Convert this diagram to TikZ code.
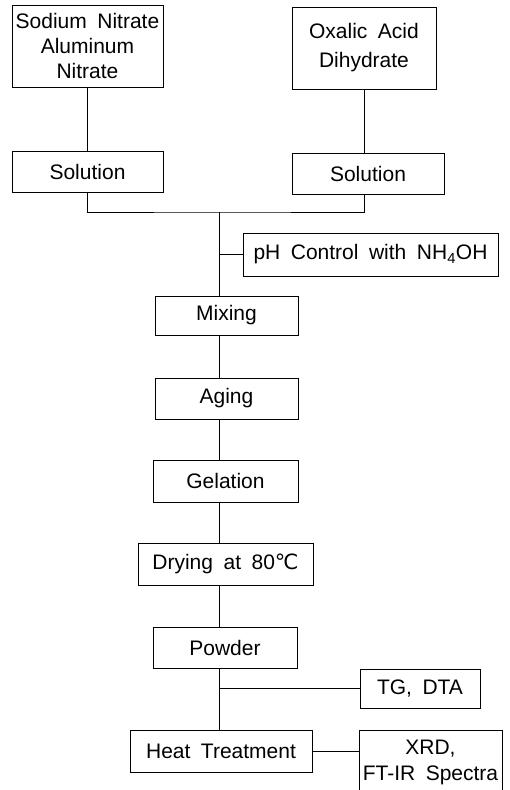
\documentclass[tikz,border=0pt]{standalone}
\usepackage{fontspec}
\setmainfont{Liberation Sans}[WordSpace=1.8]
\newfontfamily\symfont{DejaVu Sans}
\begin{document}
\begin{tikzpicture}[x=1pt,y=-1pt,
  box/.style={draw,line width=0.9pt,rectangle,align=center,inner sep=0pt,
    font=\fontsize{21}{25}\selectfont},
  ln/.style={line width=0.9pt}]
\useasboundingbox (0,0) rectangle (510,790);
\node[box,minimum width=151,minimum height=82] (sod) at (87.5,46) {Sodium Nitrate\\Aluminum\\Nitrate};
\node[box,minimum width=144,minimum height=82,font=\fontsize{21}{29}\selectfont] (oxa) at (364,48) {Oxalic Acid\\Dihydrate};
\node[box,minimum width=151,minimum height=41] (sol1) at (87.5,171.5) {Solution};
\node[box,minimum width=152,minimum height=41] (sol2) at (368,173.5) {Solution};
\coordinate (j) at (219,212);
\node[box,minimum width=255,minimum height=43] (ph) at (370.5,254.5) {pH Control with NH\textsubscript{4}OH};
\node[box,minimum width=143,minimum height=39] (mix) at (226.5,315.5) {Mixing};
\node[box,minimum width=143,minimum height=41] (age) at (226.5,398.5) {Aging};
\node[box,minimum width=145,minimum height=42] (gel) at (225.5,481) {Gelation};
\node[box,minimum width=175,minimum height=42] (dry) at (225.5,564) {Drying at 80{\symfont ℃}};
\node[box,minimum width=144,minimum height=41] (pow) at (225,647.5) {Powder};
\node[box,minimum width=120,minimum height=39] (tg) at (420,688.5) {TG, DTA};
\node[box,minimum width=182,minimum height=42] (heat) at (221,751) {Heat Treatment};
\node[box,minimum width=143,minimum height=64,font=\fontsize{21}{26}\selectfont] (xrd) at (430.5,762) {XRD,\\FT-IR Spectra};
\draw[ln] (sod.south) -- (sod.south |- sol1.north);
\draw[ln] (oxa.south) -- (oxa.south |- sol2.north);
\draw[ln] (sol1.south) |- (j) -| (oxa.south |- sol2.south);
\draw[ln] (j) -- (j |- mix.north);
\draw[ln] (j |- ph.west) -- (ph.west);
\draw[ln] (j |- mix.south) -- (j |- age.north);
\draw[ln] (j |- age.south) -- (j |- gel.north);
\draw[ln] (j |- gel.south) -- (j |- dry.north);
\draw[ln] (j |- dry.south) -- (j |- pow.north);
\draw[ln] (j |- pow.south) -- (j |- heat.north);
\draw[ln] (j |- tg.west) -- (tg.west);
\draw[ln] (heat.east) -- (heat.east -| xrd.west);
\end{tikzpicture}
\end{document}
